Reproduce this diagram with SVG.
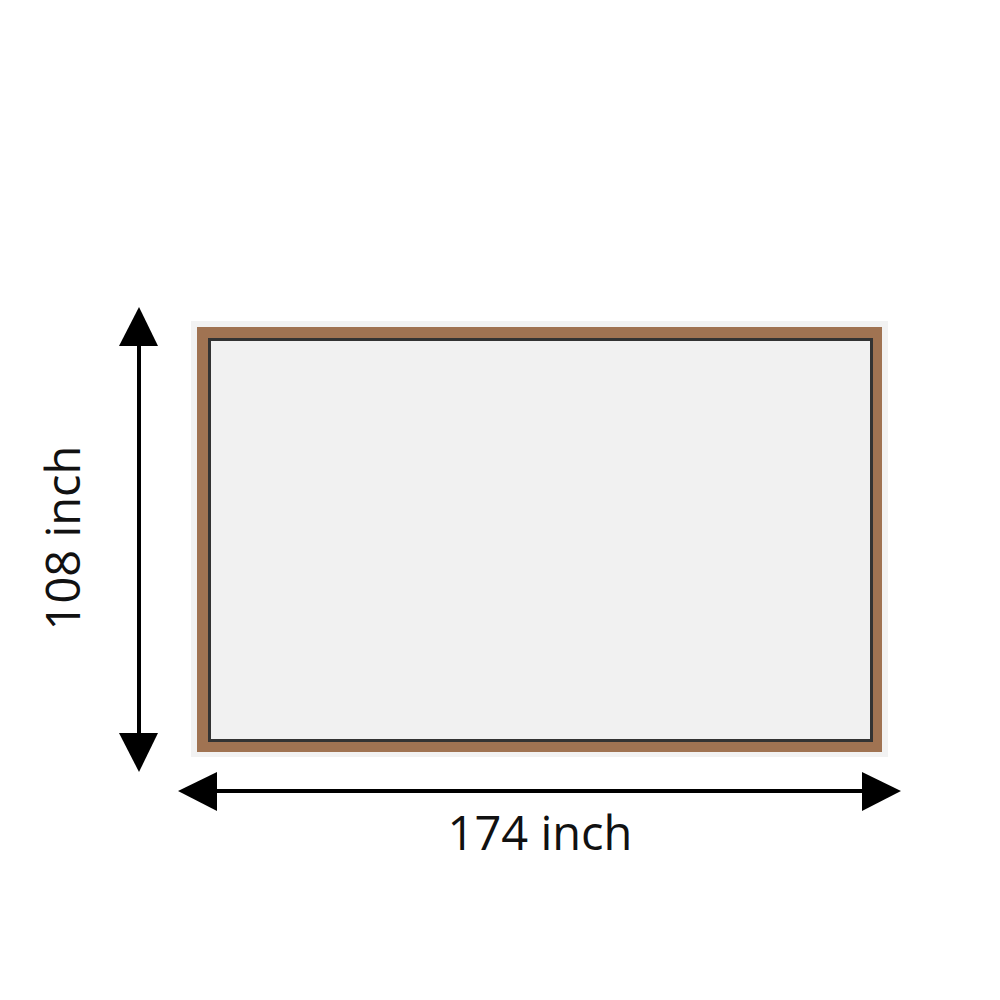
<svg xmlns="http://www.w3.org/2000/svg" width="1000" height="1000" viewBox="0 0 1000 1000">
<style>
.lbl{font-family:"Open Sans","Liberation Sans",sans-serif;font-size:47px;fill:#111;text-anchor:middle}
.dim{stroke:#000;stroke-width:4;fill:none}
.head{fill:#000}
</style>
<rect width="1000" height="1000" fill="#fff"/>
<g id="frame">
<rect x="191" y="321" width="697" height="436" fill="#f2f2f2"/>
<rect x="197" y="327" width="685" height="425" fill="#a07352"/>
<rect x="209.5" y="339.5" width="662" height="401" fill="#f1f1f1" stroke="#333" stroke-width="3"/>
</g>
<g id="connectors">
<line class="dim" x1="210" y1="791" x2="870" y2="791"/>
<polygon class="head" points="178,791 217,772 217,811"/>
<polygon class="head" points="901,791 862,772 862,811"/>
<line class="dim" x1="139" y1="340" x2="139" y2="740"/>
<polygon class="head" points="139,307 119,346 158,346"/>
<polygon class="head" points="139,772 119,733 158,733"/>
</g>
<g id="labels">
<text class="lbl" x="540" y="850">174 inch</text>
<text class="lbl" transform="translate(80,538) rotate(-90)">108 inch</text>
</g>
</svg>
